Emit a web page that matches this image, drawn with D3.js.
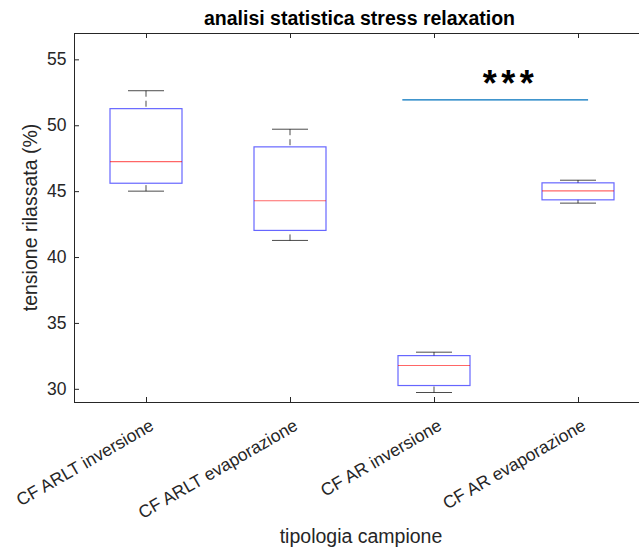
<!DOCTYPE html>
<html>
<head>
<meta charset="utf-8">
<script src="https://cdn.jsdelivr.net/npm/d3@7"></script>
<style>
  html, body { margin: 0; padding: 0; background: #fff; }
  svg { display: block; font-family: "Liberation Sans", Arial, Helvetica, sans-serif; }
</style>
</head>
<body>
<div id="chart"></div>
<script>
// Stress relaxation summary per sample type (boxplot statistics, %)
const categories = ["CF ARLT inversione", "CF ARLT evaporazione", "CF AR inversione", "CF AR evaporazione"];
const whiskerLow  = [45.0, 41.26, 29.72, 44.09];
const q1          = [45.6, 42.02, 30.25, 44.34];
const medians     = [47.24, 44.27, 31.77, 45.02];
const q3          = [51.26, 48.36, 32.52, 45.63];
const whiskerHigh = [52.62, 49.7, 32.78, 45.83];

// Significance bar between groups
const sigBar = { x0: 2.78, x1: 4.07, y: 51.92, label: "***", labelX: 3.515, labelY: 52.22 };

const yTicks = [30, 35, 40, 45, 50, 55];

const W = 639, H = 552;
const margin = { left: 74, top: 33, right: -11, bottom: 150 };
const plotW = W - margin.left - margin.right;
const plotH = H - margin.top - margin.bottom;

const svg = d3.select("#chart").append("svg")
  .attr("width", W).attr("height", H);

const x = d3.scaleLinear().domain([0.5, 4.5]).range([margin.left, margin.left + plotW]);
const y = d3.scaleLinear().domain([29, 57]).range([margin.top + plotH, margin.top]);

const axisColor = "#262626";
const boxHalf = 0.25, capHalf = 0.125;

const data = categories.map((c, i) => ({
  name: c, i: i + 1,
  lo: whiskerLow[i], q1: q1[i], med: medians[i], q3: q3[i], hi: whiskerHigh[i]
}));

const g = svg.append("g");

// Whiskers (dashed), caps, boxes and medians
data.forEach(d => {
  [[d.hi, d.q3], [d.lo, d.q1]].forEach(([a, b]) => {
    g.append("line")
      .attr("x1", x(d.i)).attr("x2", x(d.i))
      .attr("y1", y(a)).attr("y2", y(b))
      .attr("stroke", "#000").attr("stroke-width", 1)
      .attr("stroke-dasharray", "6,4").attr("opacity", 0.7);
  });
  [d.lo, d.hi].forEach(v => {
    g.append("line")
      .attr("x1", x(d.i - capHalf)).attr("x2", x(d.i + capHalf))
      .attr("y1", y(v)).attr("y2", y(v))
      .attr("stroke", "#000").attr("stroke-width", 1).attr("opacity", 0.7);
  });
  g.append("rect")
    .attr("x", x(d.i - boxHalf)).attr("width", x(d.i + boxHalf) - x(d.i - boxHalf))
    .attr("y", y(d.q3)).attr("height", y(d.q1) - y(d.q3))
    .attr("fill", "none").attr("stroke", "#0000ff").attr("stroke-width", 1.2)
    .attr("stroke-opacity", 0.6);
  g.append("line")
    .attr("x1", x(d.i - boxHalf)).attr("x2", x(d.i + boxHalf))
    .attr("y1", y(d.med)).attr("y2", y(d.med))
    .attr("stroke", "#ff0000").attr("stroke-width", 1.2).attr("stroke-opacity", 0.6);
});

// Significance bar and stars
g.append("line")
  .attr("x1", x(sigBar.x0)).attr("x2", x(sigBar.x1))
  .attr("y1", y(sigBar.y)).attr("y2", y(sigBar.y))
  .attr("stroke", "#0072BD").attr("stroke-width", 1.2);
const starSpacing = 4.5;
g.append("text")
  .attr("x", x(sigBar.labelX) + starSpacing / 2).attr("y", y(sigBar.labelY))
  .attr("text-anchor", "middle").attr("font-size", 36).attr("font-weight", "bold")
  .attr("letter-spacing", starSpacing)
  .attr("fill", "#000").text(sigBar.label);

// Axes frame
const x0 = margin.left, x1 = margin.left + plotW, yTop = margin.top, yBot = margin.top + plotH;
const frame = svg.append("g").attr("stroke", axisColor).attr("stroke-width", 1)
  .attr("shape-rendering", "crispEdges");
frame.append("line").attr("x1", x0).attr("x2", x0).attr("y1", yTop).attr("y2", yBot);
frame.append("line").attr("x1", x0).attr("x2", x1).attr("y1", yBot).attr("y2", yBot);
frame.append("line").attr("x1", x0).attr("x2", x1).attr("y1", yTop).attr("y2", yTop);
frame.append("line").attr("x1", x1).attr("x2", x1).attr("y1", yTop).attr("y2", yBot);

// Y axis (ticks inward)
const yAxis = d3.axisLeft(y).tickValues(yTicks).tickSizeInner(-5).tickSizeOuter(0).tickPadding(7.5);
const yg = svg.append("g").attr("transform", `translate(${x0},0)`).call(yAxis);
yg.select(".domain").remove();
yg.selectAll(".tick line").attr("stroke", axisColor);
yg.selectAll(".tick text").attr("font-size", 17.5).attr("fill", axisColor)
  .attr("font-family", "Liberation Sans, Arial, sans-serif");

// X axis (ticks inward, bottom and top)
const xt = d3.range(1, categories.length + 1);
const xAxis = d3.axisBottom(x).tickValues(xt).tickSizeInner(-5).tickSizeOuter(0).tickFormat(() => "");
const xg = svg.append("g").attr("transform", `translate(0,${yBot})`).call(xAxis);
xg.select(".domain").remove();
xg.selectAll(".tick line").attr("stroke", axisColor);
const xAxisTop = d3.axisTop(x).tickValues(xt).tickSizeInner(-5).tickSizeOuter(0).tickFormat(() => "");
const xgt = svg.append("g").attr("transform", `translate(0,${yTop})`).call(xAxisTop);
xgt.select(".domain").remove();
xgt.selectAll(".tick line").attr("stroke", axisColor);

// Rotated category labels
svg.append("g").selectAll("text").data(data).join("text")
  .attr("transform", d => `translate(${x(d.i) + 9},${yBot + 27}) rotate(-30)`)
  .attr("text-anchor", "end")
  .attr("font-size", 17.5).attr("fill", axisColor)
  .text(d => d.name);

// Title
svg.append("text")
  .attr("x", 359.5).attr("y", 25)
  .attr("text-anchor", "middle").attr("font-size", 19.5).attr("font-weight", "bold")
  .attr("fill", "#000").text("analisi statistica stress relaxation");

// Axis labels
svg.append("text")
  .attr("transform", `translate(37,${(yTop + yBot) / 2}) rotate(-90)`)
  .attr("text-anchor", "middle").attr("font-size", 19.5).attr("fill", axisColor)
  .text("tensione rilassata (%)");
svg.append("text")
  .attr("x", 361).attr("y", 543)
  .attr("text-anchor", "middle").attr("font-size", 19.5).attr("fill", axisColor)
  .text("tipologia campione");
</script>
</body>
</html>
